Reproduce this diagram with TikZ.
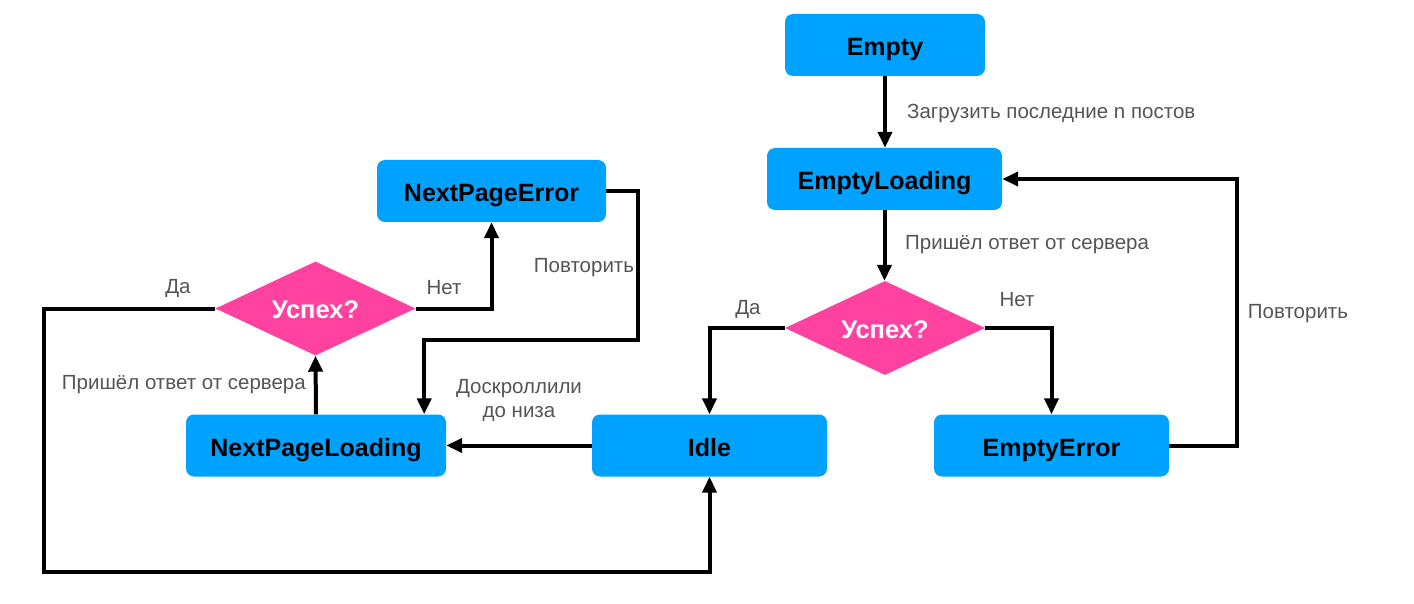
\documentclass[tikz,border=0pt]{standalone}
\usepackage{fontspec}
\setmainfont{Liberation Sans}
\usetikzlibrary{shapes.geometric,arrows.meta,calc}
\definecolor{boxblue}{RGB}{0,162,255}
\definecolor{dpink}{RGB}{255,66,160}
\definecolor{lblgray}{RGB}{85,85,85}
\begin{document}
\begin{tikzpicture}[x=1pt,y=-1pt,
  box/.style={draw=none,fill=boxblue,rounded corners=8pt,inner sep=0pt,minimum height=62pt,
    text height=21pt,text depth=0pt,
    font=\fontsize{25}{30}\selectfont\bfseries,text=black},
  dia/.style={diamond,fill=dpink,inner sep=0pt,aspect=2.15,minimum width=200pt,minimum height=94pt,
    text height=20pt,text depth=0pt,
    font=\fontsize{25.5}{28}\selectfont\bfseries,text=white},
  arr/.style={line width=4pt,-{Triangle[width=14pt,length=16pt]}},
  lbl/.style={font=\fontsize{20.5}{24}\selectfont,text=lblgray,inner sep=0pt}]
\useasboundingbox (0,0) rectangle (1414,604);
\fill[white] (0,0) rectangle (1414,604);
% nodes
\node[box,minimum width=200pt] (empty) at (885,45) {Empty};
\node[box,minimum width=235pt] (eload) at (884.5,179) {EmptyLoading};
\node[box,minimum width=229pt] (nperr) at (491.5,191) {NextPageError};
\node[dia] (dL) at (315.5,308.5) {Успех?};
\node[dia] (dR) at (885,328) {Успех?};
\node[box,minimum width=260pt] (npl) at (316,445.5) {NextPageLoading};
\node[box,minimum width=235pt] (idle) at (709.5,445.5) {Idle};
\node[box,minimum width=235pt] (eerr) at (1051.5,445.5) {EmptyError};
% helper coordinates
\coordinate (r1) at (1237,446);
\coordinate (bl) at (44,572);
\coordinate (c1) at (638,340);
% connectors
\draw[arr] (empty.south) -- (empty.south |- eload.north);
\draw[arr] (eload.south) -- (eload.south |- dR.north);
\draw[arr] (dR.west) -| (idle.north);
\draw[arr] (dR.east) -| (eerr.north);
\draw[arr] (eerr.east) -- (eerr.east -| r1) |- (eload.east);
\draw[arr] (idle.west) -- (npl.east);
\draw[arr] (npl.north) -- (dL.south);
\draw[arr] (dL.east) -| (nperr.south);
\draw[arr] (dL.west) -| (bl) -| (idle.south);
\draw[arr] (nperr.east) -| (c1) -| ([xshift=-22pt]npl.north east);
% labels
\node[lbl,anchor=west] (l1) at (907,113) {Загрузить последние n постов};
\node[lbl,anchor=west] (l2) at (905,245) {Пришёл ответ от сервера};
\node[lbl] (l3) at (748,309) {Да};
\node[lbl] (l4) at (1017,300) {Нет};
\node[lbl] (l5) at (1298,314) {Повторить};
\node[lbl,align=center] (l6) at (519,400) {Доскроллили\\до низа};
\node[lbl,anchor=east] (l7) at (306,385) {Пришёл ответ от сервера};
\node[lbl] (l8) at (444,288) {Нет};
\node[lbl] (l9) at (178,288) {Да};
\node[lbl] (l10) at (584,268) {Повторить};
\end{tikzpicture}
\end{document}
